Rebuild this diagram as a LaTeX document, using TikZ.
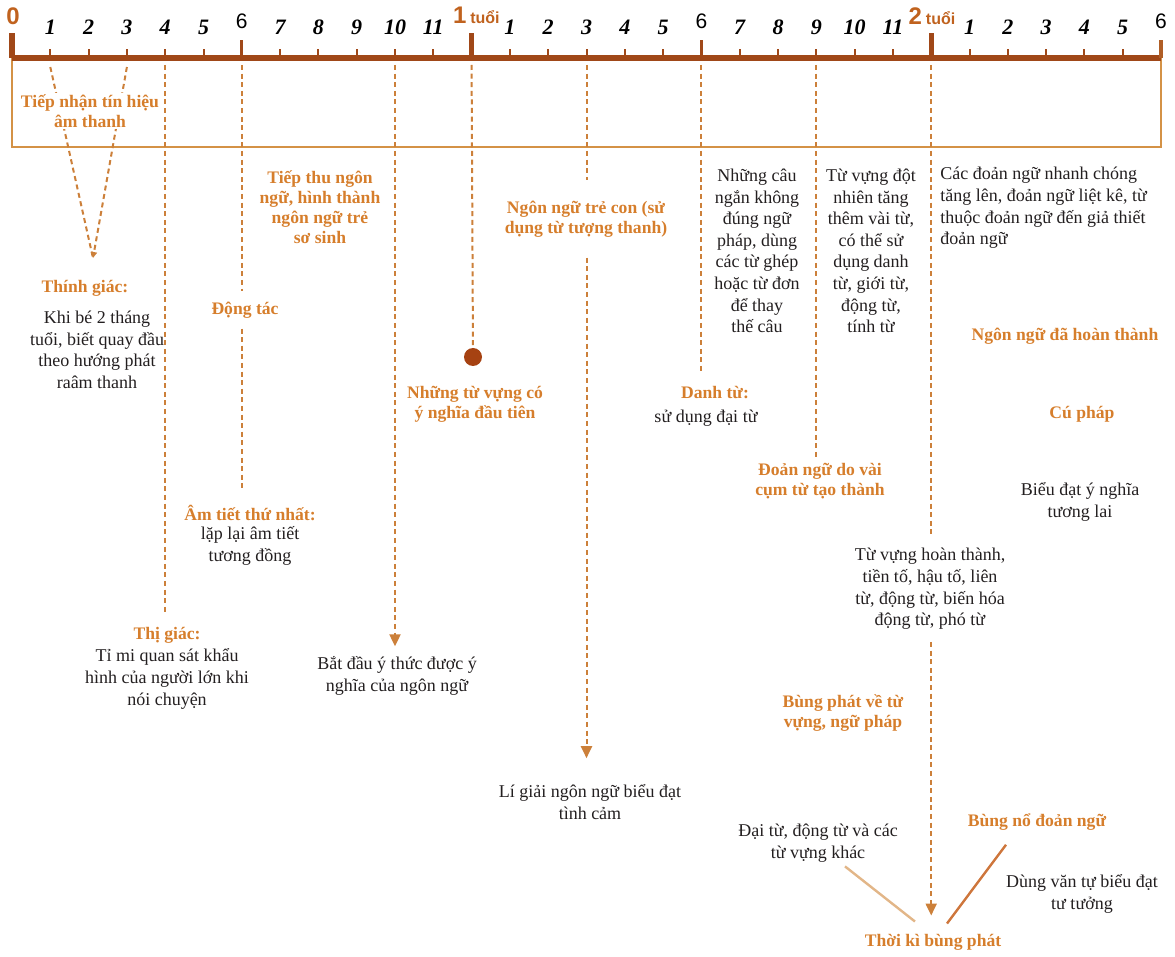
\documentclass[tikz,border=0pt]{standalone}
\usepackage{fontspec}
\setmainfont{Liberation Serif}
\setsansfont{Liberation Sans}
\usetikzlibrary{positioning,arrows.meta,calc}

\definecolor{barbrown}{RGB}{160,72,24}
\definecolor{boxtan}{RGB}{212,146,70}
\definecolor{guidecol}{RGB}{204,128,58}
\definecolor{headcol}{RGB}{214,126,44}
\definecolor{yearcol}{RGB}{192,98,30}
\definecolor{dotcol}{RGB}{166,66,18}
\definecolor{tanline}{RGB}{226,182,136}
\definecolor{orline}{RGB}{206,118,60}
\definecolor{bodytext}{RGB}{35,31,32}

\begin{document}
\begin{tikzpicture}[
      x=0.5pt, y=-0.5pt,
      font=\fontsize{9}{10.8}\selectfont,
      >={Triangle[length=6pt,width=5.5pt]},
      head/.style={text=headcol, font=\bfseries\fontsize{8.8}{10}\selectfont, align=center, inner sep=1pt},
      body/.style={text=bodytext, align=center, inner sep=1pt},
      guide/.style={draw=guidecol, line width=1pt, dash pattern=on 2.5pt off 1.8pt},
      mnum/.style={font=\bfseries\itshape\fontsize{11}{11}\selectfont, inner sep=0pt},
      msix/.style={font=\sffamily\fontsize{10.5}{10.5}\selectfont, inner sep=0pt},
      yr/.style={text=yearcol, font=\sffamily\bfseries\fontsize{12}{12}\selectfont, inner sep=0pt},
      tick/.style={draw=barbrown, line width=1pt}
    ]
    \useasboundingbox (0,0) rectangle (1175,957);

    \foreach \m in {0,...,30}
      \coordinate (t\m) at ({12+38.3*\m},58);
    \draw[boxtan, line width=1pt] (t0) rectangle ($(t30)+(0,89)$);
    \draw[barbrown, line width=3pt] (t0) -- (t30);
    \foreach \m in {1,...,29}
      \draw[tick] (t\m) -- ++(0,-9);
    \foreach \m in {6,18}
      \draw[barbrown, line width=1.6pt] (t\m) -- ++(0,-18);
    \foreach \m in {0,12,24}
      \draw[barbrown, line width=2.6pt] (t\m) -- ++(0,-25);
    \draw[barbrown!70!boxtan, line width=1.6pt] (t30) -- ++(0,-18);

    \foreach \m in {1,...,29}{
      \pgfmathtruncatemacro{\n}{mod(\m,12)}
      \ifnum\n=0 \else\ifnum\n=6 \else
        \node[mnum] (n\m) at ($(t\m)+(0,-31)$) {\n};
      \fi\fi
    }
    \foreach \m in {6,18,30}
      \node[msix] (n\m) at ($(t\m)+(0,-37)$) {6};
    \node[yr] (y0) at ($(t0)+(1,-42)$) {0};
    \node[yr, anchor=west] (y1) at ($(t12)+(-19,-43)$) {1\,{\fontsize{8}{8}\selectfont tuổi}};
    \node[yr, anchor=west] (y2) at ($(t24)+(-23,-42)$) {2\,{\fontsize{8}{8}\selectfont tuổi}};

    \coordinate (vtip) at (93,258);
    \draw[guide] ($(t1)+(0,9)$) -- (vtip);
    \draw[guide, -{Triangle[length=3pt,width=3pt]}] ($(t3)+(0,9)$) -- (vtip);

    \node[head, fill=white] (tiepnhan) at (90,111) {Tiếp nhận tín hiệu\\âm thanh};
    \node[head] (thinhhead) at (85,288) {Thính giác:};
    \node[body] (thinhbody) at (97,350) {Khi bé 2 tháng\\tuổi, biết quay đầu\\theo hướng phát\\raâm thanh};
    \node[head] (tiepthu) at (320,207) {Tiếp thu ngôn\\ngữ, hình thành\\ngôn ngữ trẻ\\sơ sinh};
    \node[head] (dongtac) at (245,310) {Động tác};
    \node[head] (amtiethead) at (250,513) {Âm tiết thứ nhất:};
    \node[body] (amtietbody) at (250,546) {lặp lại âm tiết\\tương đồng};
    \node[head] (thigiachead) at (167,635) {Thị giác:};
    \node[body] (thigiacbody) at (167,679) {Tỉ mi quan sát khẩu\\hình của người lớn khi\\nói chuyện};
    \node[circle, fill=dotcol, minimum size=9pt, inner sep=0pt] (dot) at (473,357) {};
    \node[head] (tuvungdau) at (475,404) {Những từ vựng có\\ý nghĩa đầu tiên};
    \node[body] (ythuc) at (397,676) {Bắt đầu ý thức được ý\\nghĩa của ngôn ngữ};
    \node[head] (trecon) at (586,219) {Ngôn ngữ trẻ con (sử\\dụng từ tượng thanh)};
    \node[body] (giaitinh) at (590,802) {Lí giải ngôn ngữ biểu đạt\\tình cảm};
    \node[body] (nhungcau) at (757,251) {Những câu\\ngắn không\\đúng ngữ\\pháp, dùng\\các từ ghép\\hoặc từ đơn\\để thay\\thế câu};
    \node[head] (danhtuhead) at (715,393) {Danh từ:};
    \node[body] (danhtubody) at (706,418) {sử dụng đại từ};
    \node[body] (tuvungdot) at (871,251) {Từ vựng đột\\nhiên tăng\\thêm vài từ,\\có thể sử\\dụng danh\\từ, giới từ,\\động từ,\\tính từ};
    \node[head] (doanngu) at (820,481) {Đoản ngữ do vài\\cụm từ tạo thành};
    \node[body, align=left, anchor=west] (cacdoan) at (938,208) {Các đoản ngữ nhanh chóng\\tăng lên, đoản ngữ liệt kê, từ\\thuộc đoản ngữ đến giả thiết\\đoản ngữ};
    \node[head] (hoanthanh) at (1065,336) {Ngôn ngữ đã hoàn thành};
    \node[head] (cuphap) at (1082,414) {Cú pháp};
    \node[body] (tuonglai) at (1080,502) {Biểu đạt ý nghĩa\\tương lai};
    \node[body] (tuvunghoan) at (930,589) {Từ vựng hoàn thành,\\tiền tố, hậu tố, liên\\từ, động từ, biến hóa\\động từ, phó từ};
    \node[head] (bungphat) at (843,713) {Bùng phát về từ\\vựng, ngữ pháp};
    \node[body] (daitu) at (818,843) {Đại từ, động từ và các\\từ vựng khác};
    \node[head] (bungno) at (1037,822) {Bùng nổ đoản ngữ};
    \node[body] (vantu) at (1082,894) {Dùng văn tự biểu đạt\\tư tưởng};
    \node[head] (thoiki) at (933,942) {Thời kì bùng phát};

    \draw[guide] ($(t4)+(0,7)$) -- ($(t4 |- thigiachead.north)+(0,-12)$);
    \draw[guide] ($(t6)+(0,7)$) -- ($(t6 |- dongtac.north)+(0,-8)$);
    \draw[guide] ($(t6 |- dongtac.south)+(0,8)$) -- ($(t6 |- amtiethead.north)+(0,-14)$);
    \draw[guide, ->] ($(t10)+(0,7)$) -- ($(t10 |- ythuc.north)+(0,-8)$);
    \draw[guide] ($(t12)+(0,7)$) -- (dot);
    \draw[guide] ($(t15)+(0,7)$) -- ($(t15 |- trecon.north)+(0,-18)$);
    \draw[guide, ->] ($(t15 |- trecon.south)+(0,18)$) -- ($(t15 |- giaitinh.north)+(0,-24)$);
    \draw[guide] ($(t18)+(0,7)$) -- ($(t18 |- danhtuhead.north)+(0,-12)$);
    \draw[guide] ($(t21)+(0,7)$) -- ($(t21 |- doanngu.north)+(0,-4)$);
    \draw[guide] ($(t24)+(0,7)$) -- ($(t24 |- tuvunghoan.north)+(0,-10)$);
    \draw[guide, ->] ($(t24 |- tuvunghoan.south)+(0,10)$) -- ($(t24 |- thoiki.north)+(0,-16)$);
    \draw[tanline, line width=1.2pt] ($(daitu.south)+(27,2)$) -- ($(thoiki.north)+(-18,-10)$);
    \draw[orline, line width=1.2pt] ($(bungno.south)+(-31,12)$) -- ($(thoiki.north)+(14,-8)$);
  \end{tikzpicture}
\end{document}
